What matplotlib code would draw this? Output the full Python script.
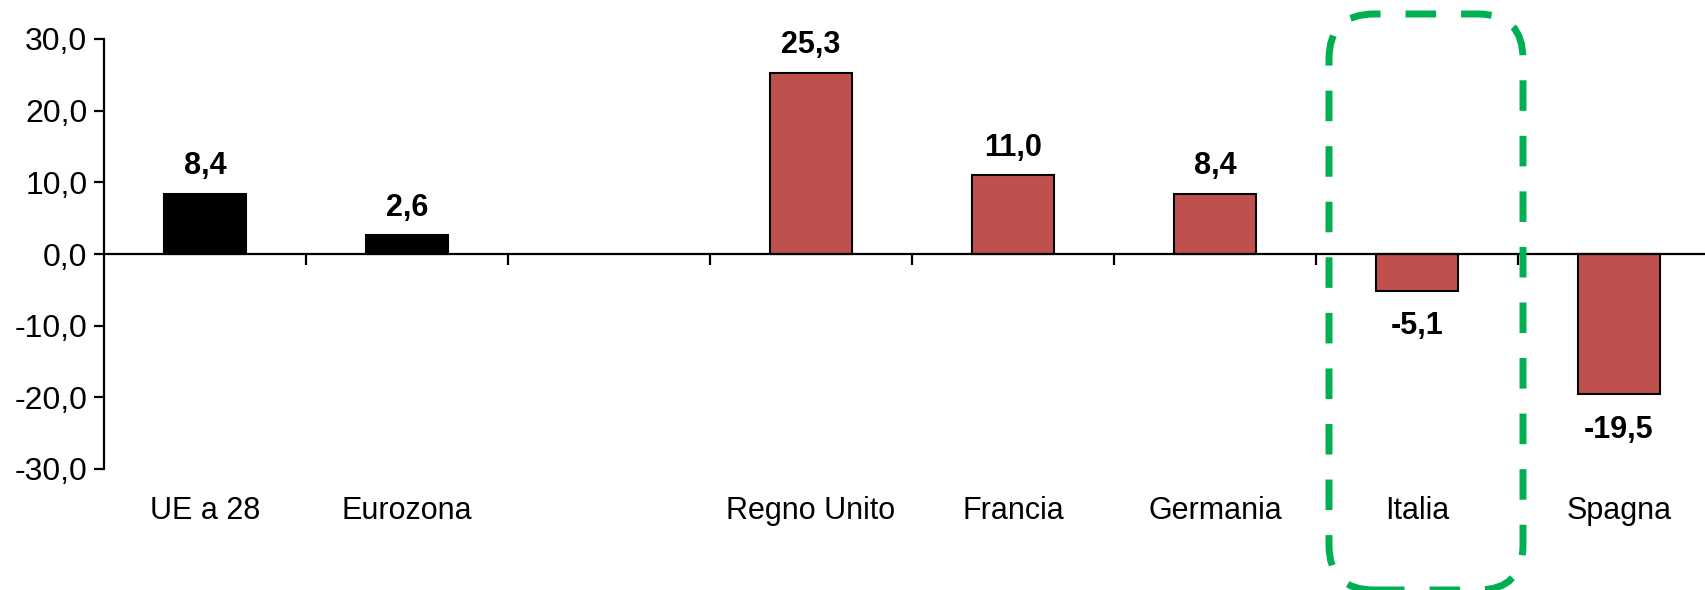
import matplotlib.pyplot as plt
import matplotlib.transforms as mtransforms
from matplotlib.patches import FancyBboxPatch
import numpy as np

plt.rcParams['font.family'] = ['Liberation Sans', 'DejaVu Sans']

# Data
categories = ['UE a 28', 'Eurozona', '', 'Regno Unito', 'Francia', 'Germania', 'Italia', 'Spagna']
values = [8.4, 2.6, None, 25.3, 11.0, 8.4, -5.1, -19.5]
bar_colors = ['black', 'black', None, '#C0504D', '#C0504D', '#C0504D', '#C0504D', '#C0504D']
yticks = [-30, -20, -10, 0, 10, 20, 30]

fig = plt.figure(figsize=(17.06, 5.90), dpi=100)
# axes extends past the right edge of the figure (cropped like the original)
ax = fig.add_axes([104 / 1706, 121 / 590, 1616 / 1706, 430 / 590])

x = np.arange(len(categories))
for i, v in enumerate(values):
    if v is None:
        continue
    ax.bar(i, v, width=0.405, color=bar_colors[i], edgecolor='black', linewidth=1.5, zorder=2)
    lab = f'{v:.1f}'.replace('.', ',')
    if v >= 0:
        ax.annotate(lab, (i, v), xytext=(0, 9), textcoords='offset points',
                    ha='center', va='bottom', fontsize=22, fontweight='bold')
    else:
        ax.annotate(lab, (i, v), xytext=(0, -15), textcoords='offset points',
                    ha='center', va='top', fontsize=22, fontweight='bold')

ax.set_xlim(-0.5, len(categories) - 0.5)
ax.set_ylim(-30, 30)
ax.set_yticks(yticks)
ax.set_yticklabels([f'{t:.1f}'.replace('.', ',') for t in yticks], fontsize=23)
ax.tick_params(axis='y', direction='out', length=7, width=1.6, pad=5)

ax.set_xticks(np.arange(0.5, len(categories) - 0.5, 1))
ax.set_xticklabels([])
ax.tick_params(axis='x', direction='out', length=8, width=1.6)

for s in ['top', 'right']:
    ax.spines[s].set_visible(False)
ax.spines['bottom'].set_position(('data', 0))
ax.spines['bottom'].set_linewidth(1.6)
ax.spines['left'].set_linewidth(1.6)

# category labels below the plot area
trans = mtransforms.blended_transform_factory(ax.transData, ax.transAxes)
for i, c in enumerate(categories):
    ax.text(i, -0.098, c, transform=trans, ha='center', va='center', fontsize=22)

# dashed rounded highlight box around Italia
box = FancyBboxPatch((13.29, 0.0), 1.94, 5.76,
                     boxstyle='round,pad=0,rounding_size=0.45',
                     transform=fig.dpi_scale_trans, fill=False,
                     edgecolor='#00B050', linewidth=5, linestyle=(0, (4.4, 3.6)),
                     zorder=5)
fig.patches.append(box)

fig.savefig('out.png', dpi=100)
